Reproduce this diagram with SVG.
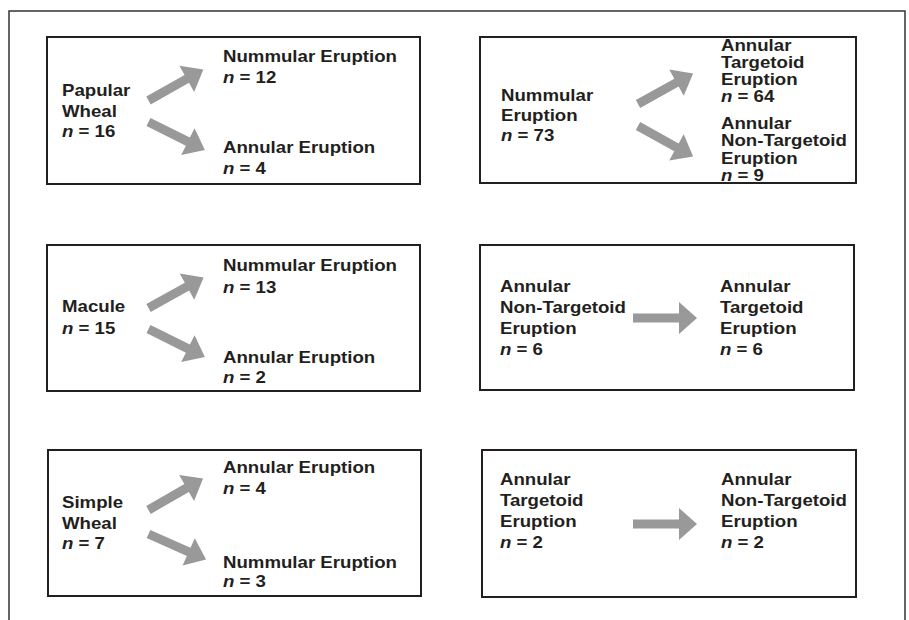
<svg xmlns="http://www.w3.org/2000/svg" xmlns:xlink="http://www.w3.org/1999/xlink" width="909" height="620" viewBox="0 0 909 620">
<style>
.box{fill:#fff;stroke:#231f20;stroke-width:2}
.t{font-family:"Liberation Sans",Arial,Helvetica,sans-serif;font-weight:bold;font-size:16.5px;fill:#231f20}
.i{font-style:italic}
.arr{fill:#999}
</style>
<defs>
<path id="arrD" d="M0,-4.5 H44 V-15 L63,0 L44,15 V4.5 H0 Z"/>
<path id="arrH" d="M0,-4.5 H46 V-16 L64,0 L46,16 V4.5 H0 Z"/>
</defs>
<rect width="909" height="620" fill="#fff"/>
<path d="M9,620 V11 H905 V620" fill="none" stroke="#333" stroke-width="1.5"/>

<g id="node-papular">
<rect class="box" x="47" y="37" width="373" height="147"/>
<text class="t" transform="translate(62 0) scale(1.13 1)"><tspan x="0" y="96">Papular</tspan><tspan x="0" y="117">Wheal</tspan><tspan x="0" y="137"><tspan class="i">n</tspan> = 16</tspan></text>
<text class="t" transform="translate(223 0) scale(1.13 1)"><tspan x="0" y="62">Nummular Eruption</tspan><tspan x="0" y="83"><tspan class="i">n</tspan> = 12</tspan><tspan x="0" y="153">Annular Eruption</tspan><tspan x="0" y="174"><tspan class="i">n</tspan> = 4</tspan></text>
</g>

<g id="node-nummular">
<rect class="box" x="480" y="37" width="376" height="146"/>
<text class="t" transform="translate(501 0) scale(1.13 1)"><tspan x="0" y="101">Nummular</tspan><tspan x="0" y="121">Eruption</tspan><tspan x="0" y="141"><tspan class="i">n</tspan> = 73</tspan></text>
<text class="t" transform="translate(721 0) scale(1.13 1)"><tspan x="0" y="51.5">Annular</tspan><tspan x="0" y="68.5">Targetoid</tspan><tspan x="0" y="85.5">Eruption</tspan><tspan x="0" y="102.5"><tspan class="i">n</tspan> = 64</tspan><tspan x="0" y="129">Annular</tspan><tspan x="0" y="146.5">Non-Targetoid</tspan><tspan x="0" y="164">Eruption</tspan><tspan x="0" y="181.5"><tspan class="i">n</tspan> = 9</tspan></text>
</g>

<g id="node-macule">
<rect class="box" x="47" y="245" width="373" height="146"/>
<text class="t" transform="translate(62 0) scale(1.13 1)"><tspan x="0" y="312.5">Macule</tspan><tspan x="0" y="334"><tspan class="i">n</tspan> = 15</tspan></text>
<text class="t" transform="translate(223 0) scale(1.13 1)"><tspan x="0" y="271.5">Nummular Eruption</tspan><tspan x="0" y="293"><tspan class="i">n</tspan> = 13</tspan><tspan x="0" y="363">Annular Eruption</tspan><tspan x="0" y="383"><tspan class="i">n</tspan> = 2</tspan></text>
</g>

<g id="node-annular-nt">
<rect class="box" x="480" y="245" width="374" height="145"/>
<text class="t" transform="translate(500 0) scale(1.13 1)"><tspan x="0" y="292">Annular</tspan><tspan x="0" y="313">Non-Targetoid</tspan><tspan x="0" y="334">Eruption</tspan><tspan x="0" y="355"><tspan class="i">n</tspan> = 6</tspan></text>
<text class="t" transform="translate(720 0) scale(1.13 1)"><tspan x="0" y="292">Annular</tspan><tspan x="0" y="313">Targetoid</tspan><tspan x="0" y="334">Eruption</tspan><tspan x="0" y="355"><tspan class="i">n</tspan> = 6</tspan></text>
</g>

<g id="node-simple">
<rect class="box" x="48" y="450" width="373" height="146"/>
<text class="t" transform="translate(62 0) scale(1.13 1)"><tspan x="0" y="508">Simple</tspan><tspan x="0" y="529">Wheal</tspan><tspan x="0" y="549"><tspan class="i">n</tspan> = 7</tspan></text>
<text class="t" transform="translate(223 0) scale(1.13 1)"><tspan x="0" y="473">Annular Eruption</tspan><tspan x="0" y="494"><tspan class="i">n</tspan> = 4</tspan><tspan x="0" y="568">Nummular Eruption</tspan><tspan x="0" y="587.5"><tspan class="i">n</tspan> = 3</tspan></text>
</g>

<g id="node-annular-t">
<rect class="box" x="482" y="450" width="374" height="147"/>
<text class="t" transform="translate(500 0) scale(1.13 1)"><tspan x="0" y="485">Annular</tspan><tspan x="0" y="506">Targetoid</tspan><tspan x="0" y="527.5">Eruption</tspan><tspan x="0" y="548"><tspan class="i">n</tspan> = 2</tspan></text>
<text class="t" transform="translate(721 0) scale(1.13 1)"><tspan x="0" y="485">Annular</tspan><tspan x="0" y="506">Non-Targetoid</tspan><tspan x="0" y="527.5">Eruption</tspan><tspan x="0" y="548"><tspan class="i">n</tspan> = 2</tspan></text>
</g>

<g id="connectors" class="arr">
<use xlink:href="#arrD" transform="translate(148.5 100.5) rotate(-29.5)"/>
<use xlink:href="#arrD" transform="translate(148.5 122) rotate(26.5)"/>
<use xlink:href="#arrD" transform="translate(638 104) rotate(-29)"/>
<use xlink:href="#arrD" transform="translate(638 126) rotate(29)"/>
<use xlink:href="#arrD" transform="translate(148.5 308) rotate(-29)"/>
<use xlink:href="#arrD" transform="translate(148.5 329) rotate(26.5)"/>
<use xlink:href="#arrD" transform="translate(148.5 510) rotate(-30)"/>
<use xlink:href="#arrD" transform="translate(148.5 534) rotate(24)"/>
<use xlink:href="#arrH" transform="translate(633 318)"/>
<use xlink:href="#arrH" transform="translate(633 524)"/>
</g>
</svg>
